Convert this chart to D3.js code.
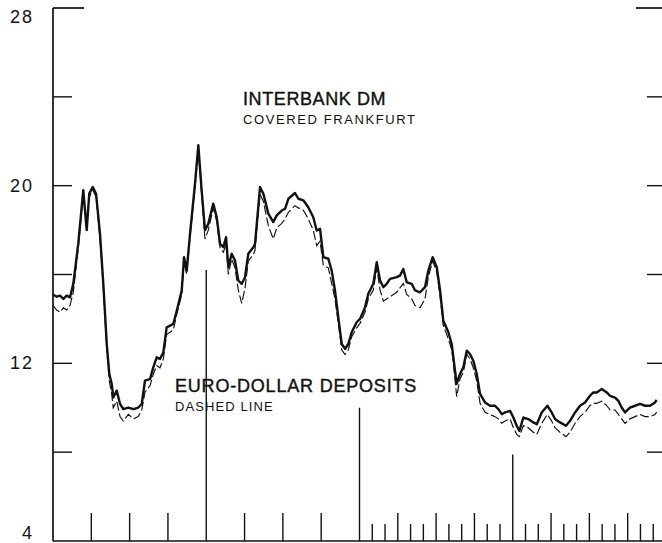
<!DOCTYPE html>
<html>
<head>
<meta charset="utf-8">
<script src="https://cdn.jsdelivr.net/npm/d3@7"></script>
<style>
body { margin: 0; background: #fff; }
text { font-family: "Liberation Sans", Arial, sans-serif; fill: #111; }
</style>
</head>
<body>
<div id="chart"></div>
<script>
// months since start of chart (x), rates in percent (y)
var months = [0,0.29,0.55,0.81,1.07,1.33,1.59,1.98,2.37,2.64,
    2.84,3.11,3.37,3.68,3.94,4.21,4.41,4.6,4.72,4.99,
    5.25,5.5,5.9,6.29,6.68,6.95,7.2,7.6,7.85,8.12,
    8.38,8.64,8.9,9.42,9.69,10.08,10.26,10.47,10.73,11.12,
    11.38,11.64,11.9,12.16,12.55,12.82,13.08,13.34,13.55,13.73,
    13.99,14.25,14.51,14.78,15.04,15.29,15.69,15.82,16.21,16.47,
    16.86,17.25,17.52,17.91,18.17,18.43,18.95,19.21,19.6,19.99,
    20.38,20.65,20.91,21.17,21.56,21.82,22.08,22.34,22.61,22.87,
    23.12,23.39,23.78,24.04,24.43,24.69,25.08,25.35,25.61,25.87,
    26.13,26.39,26.91,27.17,27.43,27.7,28.09,28.35,28.74,29.13,
    29.39,29.73,30.05,30.31,30.56,30.96,31.22,31.35,31.61,31.87,
    32.13,32.4,32.65,32.91,33.18,33.44,33.83,34.22,34.61,34.87,
    35.14,35.4,35.79,36.05,36.31,36.52,36.83,37.22,37.61,37.88,
    38.27,38.71,39.05,39.31,39.7,40.17,40.49,40.88,41.27,41.66,
    42.05,42.31,42.58,42.97,43.36,43.62,44.01,44.27,44.53,44.79,
    45.18,45.58,45.97,46.36,46.75,47.14,47.27];

var interbank = [15.1,15.0,15.05,14.9,15.05,14.97,15.58,17.4,19.8,18.0,
    19.64,19.94,19.64,17.83,15.58,12.87,11.52,11.07,10.46,10.77,
    10.17,9.94,10.01,9.94,10.01,10.17,11.22,11.29,11.82,12.27,
    12.2,12.49,13.62,13.77,14.37,15.28,16.78,16.18,17.83,20.09,
    21.82,19.79,18.0,18.28,19.19,18.58,17.38,17.23,17.68,16.33,
    16.93,16.63,15.73,15.58,15.88,16.93,17.23,17.38,19.94,19.64,
    18.74,18.36,18.66,18.88,18.96,19.41,19.67,19.41,19.34,19.03,
    18.58,17.98,18.06,16.78,16.71,16.18,15.28,14.07,12.87,12.65,
    12.87,13.4,13.85,14.0,14.52,15.13,15.58,16.55,15.73,15.43,
    15.58,15.8,15.88,15.95,16.25,15.65,15.58,15.28,15.2,15.43,
    16.18,16.78,16.33,15.28,13.92,13.4,12.87,12.27,11.07,11.52,
    11.82,12.57,12.42,12.12,11.52,10.62,10.24,10.09,10.09,9.94,
    9.71,9.79,9.86,9.56,9.19,8.96,9.56,9.49,9.34,9.26,
    9.79,10.09,9.79,9.49,9.34,9.19,9.41,9.79,10.09,10.24,
    10.54,10.69,10.69,10.84,10.69,10.54,10.46,10.31,10.01,9.79,
    10.01,10.09,10.17,10.09,10.09,10.24,10.35];

var eurodollar = [14.6,14.4,14.3,14.5,14.4,14.6,15.2,17.2,19.6,18.2,
    19.5,19.8,19.5,17.6,15.4,12.6,11.2,10.6,10.0,10.3,
    9.6,9.4,9.7,9.5,9.6,9.9,10.7,11.0,11.5,11.9,
    11.8,12.2,13.3,13.5,14.2,15.1,16.6,16.0,17.7,19.9,
    21.6,19.6,17.6,18.0,19.0,18.4,17.2,17.0,17.4,16.0,
    16.7,16.3,15.3,14.7,15.4,16.6,16.9,17.1,19.6,19.3,
    18.2,17.6,18.1,18.3,18.5,18.8,19.1,19.0,18.9,18.5,
    18.0,17.3,17.5,16.4,16.3,15.6,14.9,13.8,12.6,12.4,
    12.6,13.2,13.6,13.8,14.3,14.9,15.3,16.3,15.3,14.8,
    14.9,15.0,15.2,15.4,15.6,15.1,14.9,14.6,14.5,14.9,
    15.9,16.6,16.1,15.0,13.7,13.1,12.6,12.0,10.5,11.3,
    11.6,12.4,12.2,11.8,11.2,10.2,9.8,9.7,9.6,9.5,
    9.3,9.4,9.5,9.1,8.8,8.7,9.2,9.1,8.9,8.8,
    9.3,9.7,9.4,9.1,8.9,8.7,8.9,9.3,9.6,9.8,
    10.1,10.2,10.2,10.3,10.1,9.9,9.9,9.7,9.5,9.3,
    9.5,9.6,9.7,9.6,9.6,9.7,9.8];

var yLabels = [4, 12, 20, 28];
var yMinor = [8, 16, 24];
var yearMonths = [12, 24, 36];
var yearTops = [16.2, 10.0, 7.9];

var width = 662, height = 543;

var svg = d3.select("#chart")
    .append("svg")
    .attr("width", width)
    .attr("height", height);

var x = d3.scaleLinear().domain([0, 48]).range([53, 666]),
    y = d3.scaleLinear().domain([4, 28]).range([541, 8]);

// frame: left and bottom axis
svg.append("line")
    .attr("x1", x(0)).attr("y1", y(28))
    .attr("x2", x(0)).attr("y2", y(4))
    .style("stroke", "#111").style("stroke-width", 1.7);
svg.append("line")
    .attr("x1", x(0)).attr("y1", y(4))
    .attr("x2", x(48)).attr("y2", y(4))
    .style("stroke", "#111").style("stroke-width", 1.7);

// top ticks are longer
svg.append("line")
    .attr("x1", x(0)).attr("y1", y(28)).attr("x2", x(0) + 31).attr("y2", y(28))
    .style("stroke", "#111").style("stroke-width", 1.7);
svg.append("line")
    .attr("x1", x(48) - 30).attr("y1", y(28)).attr("x2", x(48)).attr("y2", y(28))
    .style("stroke", "#111").style("stroke-width", 1.7);

var sideTicks = yLabels.slice(1, 3).concat(yMinor);
svg.selectAll(".ltick")
    .data(sideTicks)
    .enter().append("line")
    .attr("x1", x(0)).attr("x2", x(0) + 19)
    .attr("y1", function(d) { return y(d); })
    .attr("y2", function(d) { return y(d); })
    .style("stroke", "#111").style("stroke-width", 1.4);
svg.selectAll(".rtick")
    .data(sideTicks)
    .enter().append("line")
    .attr("x1", x(48) - 19).attr("x2", x(48))
    .attr("y1", function(d) { return y(d); })
    .attr("y2", function(d) { return y(d); })
    .style("stroke", "#111").style("stroke-width", 1.4);

svg.selectAll(".ylabel")
    .data(yLabels)
    .enter().append("text")
    .attr("x", 34)
    .attr("y", function(d) { return Math.min(Math.max(y(d) + 6, 23), 539); })
    .attr("text-anchor", "end")
    .style("font-size", "18px")
    .style("letter-spacing", "2px")
    .text(function(d) { return d; });

// month / quarter / year marks along the bottom
var bottomTicks = d3.range(1, 48).filter(function(m) { return m >= 24 || m % 3 == 0; });
svg.selectAll(".btick")
    .data(bottomTicks)
    .enter().append("line")
    .attr("x1", function(d) { return x(d); })
    .attr("x2", function(d) { return x(d); })
    .attr("y1", y(4))
    .attr("y2", function(d) {
        var i = yearMonths.indexOf(d);
        if (i >= 0) return y(yearTops[i]);
        if (d % 3 == 0) return y(4) - 28;
        return y(4) - 17;
    })
    .style("stroke", "#111").style("stroke-width", 1.4);

var rows = months.map(function(m, i) {
    return {m: m, ib: interbank[i], ed: eurodollar[i]};
});

var lineEd = d3.line()
    .x(function(d) { return x(d.m); })
    .y(function(d) { return y(d.ed); });
var lineIb = d3.line()
    .x(function(d) { return x(d.m); })
    .y(function(d) { return y(d.ib); });

svg.append("path")
    .datum(rows)
    .attr("d", lineEd)
    .style("fill", "none")
    .style("stroke", "#111")
    .style("stroke-width", 1.15)
    .style("stroke-dasharray", "9,3");

svg.append("path")
    .datum(rows)
    .attr("d", lineIb)
    .style("fill", "none")
    .style("stroke", "#111")
    .style("stroke-width", 2.4)
    .style("stroke-linejoin", "round");

// labels
svg.append("text")
    .attr("x", 243).attr("y", 105)
    .style("font-size", "18px")
    .style("letter-spacing", "0.6px")
    .style("stroke", "#111").style("stroke-width", 0.4)
    .text("INTERBANK DM");
svg.append("text")
    .attr("x", 243).attr("y", 124)
    .style("font-size", "13px")
    .style("letter-spacing", "1.6px")
    .text("COVERED FRANKFURT");
svg.append("text")
    .attr("x", 175).attr("y", 392)
    .style("font-size", "18px")
    .style("letter-spacing", "0.8px")
    .style("stroke", "#111").style("stroke-width", 0.4)
    .text("EURO-DOLLAR DEPOSITS");
svg.append("text")
    .attr("x", 175).attr("y", 411)
    .style("font-size", "13px")
    .style("letter-spacing", "1.1px")
    .text("DASHED LINE");
</script>
</body>
</html>
